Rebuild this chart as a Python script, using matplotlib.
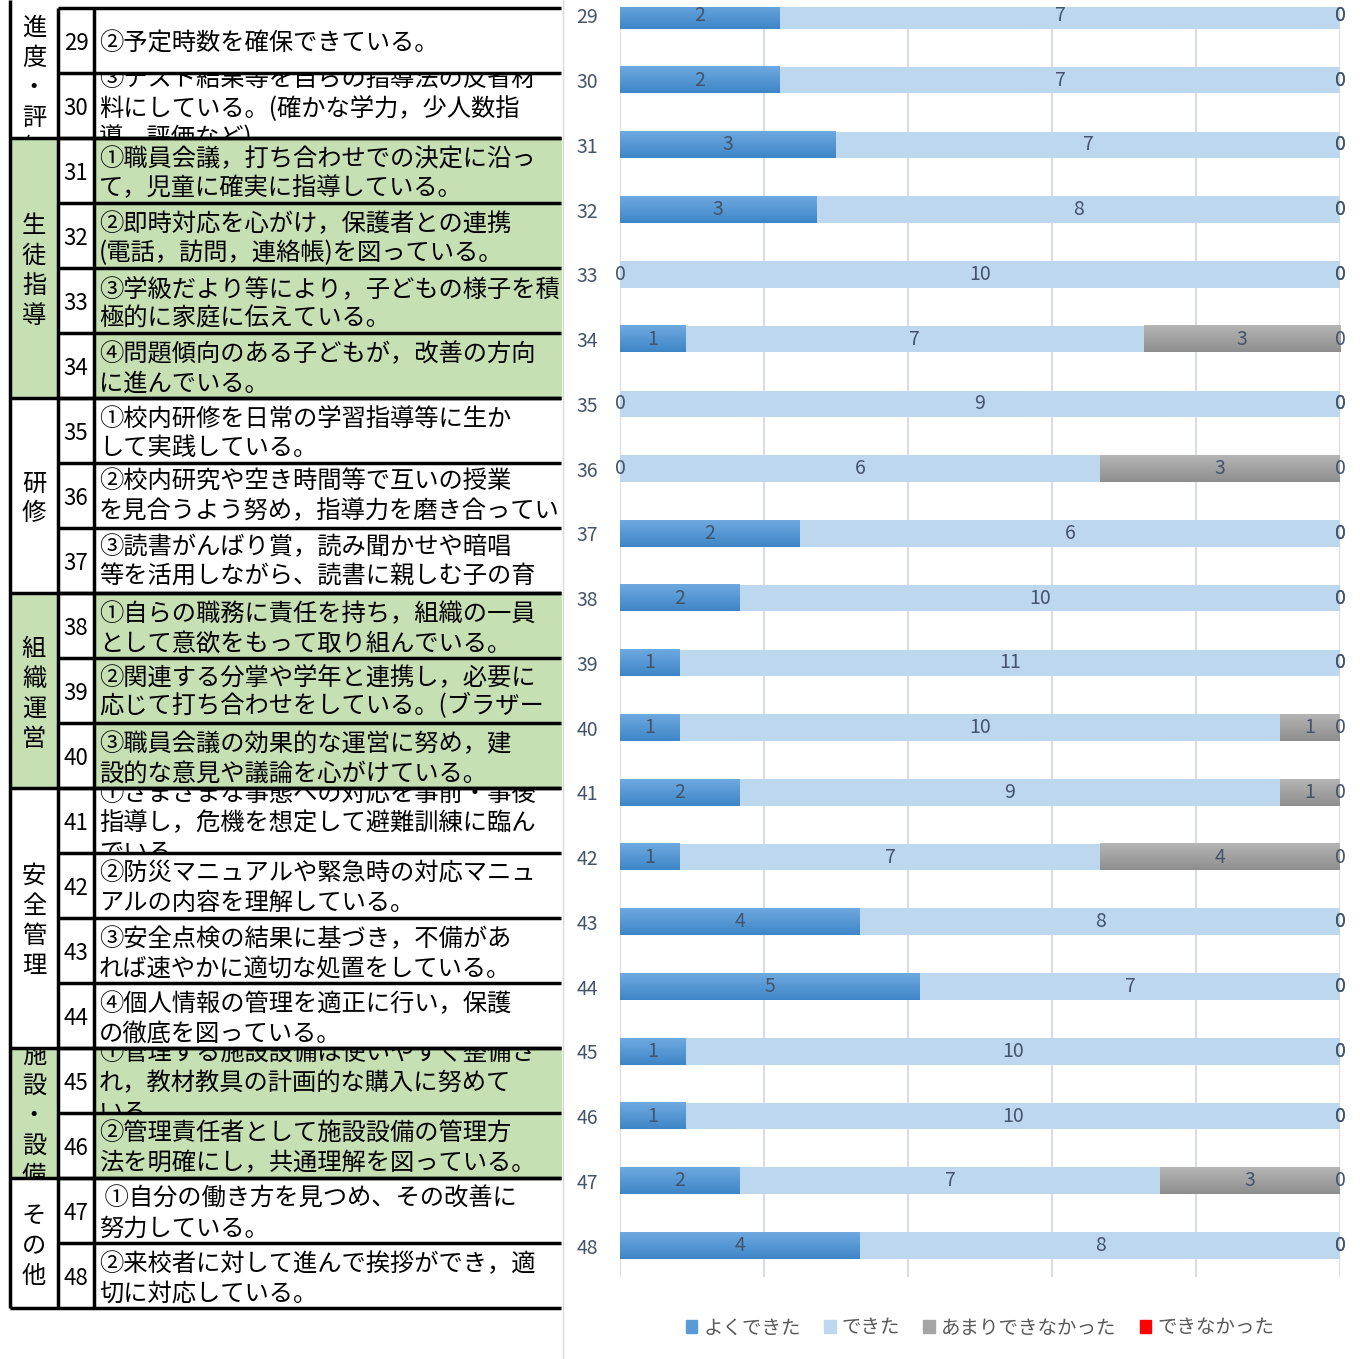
import numpy as np
import matplotlib
matplotlib.use('Agg')
import matplotlib.pyplot as plt
from matplotlib.patches import Rectangle, Patch
from matplotlib.colors import LinearSegmentedColormap
from matplotlib.transforms import Bbox

plt.rcParams['font.family'] = ['Noto Sans CJK JP', 'DejaVu Sans']

# Data
item_no = [29, 30, 31, 32, 33, 34, 35, 36, 37, 38, 39, 40, 41, 42, 43, 44, 45, 46, 47, 48]
yoku_dekita = [2, 2, 3, 3, 0, 1, 0, 0, 2, 2, 1, 1, 2, 1, 4, 5, 1, 1, 2, 4]
dekita = [7, 7, 7, 8, 10, 7, 9, 6, 6, 10, 11, 10, 9, 7, 8, 7, 10, 10, 7, 8]
amari = [0, 0, 0, 0, 0, 3, 0, 3, 0, 0, 0, 1, 1, 4, 0, 0, 0, 0, 3, 0]
dekinakatta = [0, 0, 0, 0, 0, 0, 0, 0, 0, 0, 0, 0, 0, 0, 0, 0, 0, 0, 0, 0]
series_names = ['よくできた', 'できた', 'あまりできなかった', 'できなかった']

item_text = [
    ['②予定時数を確保できている。'],
    ['③テスト結果等を自らの指導法の反省材', '料にしている。(確かな学力，少人数指', '導，評価など)'],
    ['①職員会議，打ち合わせでの決定に沿っ', 'て，児童に確実に指導している。'],
    ['②即時対応を心がけ，保護者との連携', '(電話，訪問，連絡帳)を図っている。'],
    ['③学級だより等により，子どもの様子を積', '極的に家庭に伝えている。'],
    ['④問題傾向のある子どもが，改善の方向', 'に進んでいる。'],
    ['①校内研修を日常の学習指導等に生か', 'して実践している。'],
    ['②校内研究や空き時間等で互いの授業', 'を見合うよう努め，指導力を磨き合ってい', 'る。'],
    ['③読書がんばり賞，読み聞かせや暗唱', '等を活用しながら、読書に親しむ子の育', '成を図っている。'],
    ['①自らの職務に責任を持ち，組織の一員', 'として意欲をもって取り組んでいる。'],
    ['②関連する分掌や学年と連携し，必要に', '応じて打ち合わせをしている。(ブラザー', 'シスター制など)'],
    ['③職員会議の効果的な運営に努め，建', '設的な意見や議論を心がけている。'],
    ['①さまざまな事態への対応を事前・事後', '指導し，危機を想定して避難訓練に臨ん', 'でいる。'],
    ['②防災マニュアルや緊急時の対応マニュ', 'アルの内容を理解している。'],
    ['③安全点検の結果に基づき，不備があ', 'れば速やかに適切な処置をしている。'],
    ['④個人情報の管理を適正に行い，保護', 'の徹底を図っている。'],
    ['①管理する施設設備は使いやすく整備さ', 'れ，教材教具の計画的な購入に努めて', 'いる。'],
    ['②管理責任者として施設設備の管理方', '法を明確にし，共通理解を図っている。'],
    [' ①自分の働き方を見つめ、その改善に', '努力している。'],
    ['②来校者に対して進んで挨拶ができ，適', '切に対応している。'],
]
text_top_aligned = [36, 37, 39]

# group label, first row, last row, shaded
groups = [
    ('進度・評価', 29, 30, False),
    ('生徒指導', 31, 34, True),
    ('研修', 35, 37, False),
    ('組織運営', 38, 40, True),
    ('安全管理', 41, 44, False),
    ('施設・設備', 45, 46, True),
    ('その他', 47, 48, False),
]

green = '#C6E0B4'
colors = ['#5B9BD5', '#BDD7EE', '#A5A5A5', '#FF0000']
gradients = {0: ('#6EA9E0', '#3E86C7'), 2: ('#B5B5B5', '#8E8E8E')}
label_color = '#44546A'

W, H = 1360, 1359
fig = plt.figure(figsize=(W / 100, H / 100), dpi=100)

# ---------- table (left) ----------
ax_t = fig.add_axes([0, 0, 1, 1])
ax_t.set_xlim(0, W)
ax_t.set_ylim(H, 0)
ax_t.axis('off')

x0, x1, x2, x3 = 10, 58, 94, 561
row_h = 65
top0 = 8
dy = 3  # baseline nudge for CJK font


def row_top(no):
    return top0 + row_h * (no - item_no[0])


def clip_text(t, bx0, by0, bx1, by1):
    # axes spans the whole figure: pixel coords, y flipped
    t.set_clip_box(Bbox.from_extents(bx0, H - by1, bx1, H - by0))
    t.set_clip_on(True)


tfs = 17.5
for name, r0, r1, shaded in groups:
    gy0 = row_top(r0)
    gy1 = row_top(r1) + row_h
    if name == '進度・評価':
        gy0 = 0
    if shaded:
        ax_t.add_patch(Rectangle((x0, gy0), x1 - x0, gy1 - gy0, color=green, zorder=0))
        ax_t.add_patch(Rectangle((x2, gy0), x3 - x2, gy1 - gy0, color=green, zorder=0))
    n = len(name)
    if name == '進度・評価':
        ys = [row_top(r0) + 17 + 30 * k for k in range(n)]
    else:
        yc = (gy0 + gy1) / 2
        ys = [yc + 30 * (k - (n - 1) / 2) for k in range(n)]
    for ch, yy in zip(name, ys):
        t = ax_t.text((x0 + x1) / 2, yy + dy, ch, ha='center', va='center', fontsize=tfs, color='black')
        clip_text(t, x0 + 2, gy0, x1 - 2, gy1)
    ax_t.plot([x0, x3], [gy1, gy1], color='black', lw=2.5, solid_capstyle='butt')

for i, no in enumerate(item_no):
    ry0 = row_top(no)
    ry1 = ry0 + row_h
    ax_t.plot([x1, x3], [ry0, ry0], color='black', lw=2.5, solid_capstyle='butt')
    ax_t.text((x1 + x2) / 2, ry0 + row_h / 2 + dy, str(no), ha='center', va='center', fontsize=16)
    lines = item_text[i]
    n = len(lines)
    for k, line in enumerate(lines):
        if no in text_top_aligned:
            yy = ry0 + 16 + 29.5 * k
        else:
            yy = ry0 + row_h / 2 + 29.5 * (k - (n - 1) / 2)
        t = ax_t.text(x2 + 5, yy + dy, line, ha='left', va='center', fontsize=tfs, color='black')
        clip_text(t, x2 + 2, ry0 + 1, x3 - 1, ry1 - 1)

tab_bottom = row_top(item_no[-1]) + row_h
for xx in [x0, x1, x2]:
    ax_t.plot([xx, xx], [0 if xx == x0 else top0, tab_bottom], color='black', lw=2.5, solid_capstyle='butt')

# chart area border
ax_t.plot([563, 563], [0, H], color='#D9D9D9', lw=1)

# ---------- stacked bar chart (right) ----------
ax_top, ax_bot = 7, 1277
ax_c = fig.add_axes([620 / W, 1 - ax_bot / H, 720 / W, (ax_bot - ax_top) / H])
ax_c.patch.set_visible(False)

data = np.array([yoku_dekita, dekita, amari, dekinakatta], dtype=float).T
share = data / data.sum(axis=1, keepdims=True) * 100
ypos = np.arange(len(item_no))
left = np.zeros(len(item_no))
ramp = np.linspace(0, 1, 64).reshape(-1, 1)
for j in range(4):
    bars = ax_c.barh(ypos, share[:, j], left=left, height=0.41, color=colors[j], zorder=2)
    if j in gradients:
        cmap = LinearSegmentedColormap.from_list('g%d' % j, gradients[j])
        for b in bars:
            if b.get_width() <= 0:
                continue
            bx, by = b.get_x(), b.get_y()
            im = ax_c.imshow(ramp, cmap=cmap, aspect='auto', zorder=2.1,
                             extent=[bx, bx + b.get_width(), by + b.get_height(), by])
    for i in range(len(item_no)):
        xc = left[i] + share[i, j] / 2
        ax_c.text(xc, ypos[i], '%d' % data[i, j], ha='center', va='center',
                  fontsize=14, color=label_color, zorder=3)
    left += share[:, j]

ax_c.set_ylim(19 + 31.5 / 64.75, -(15.3 - 7) / 64.75)
ax_c.set_xlim(0, 100)
ax_c.set_aspect('auto')
ax_c.set_xticks(np.arange(0, 101, 20))
ax_c.set_xticklabels([])
ax_c.tick_params(axis='x', length=0)
ax_c.grid(axis='x', color='#D9DEE6', lw=1.5, zorder=0)
ax_c.set_axisbelow(True)
ax_c.set_yticks(ypos)
ax_c.set_yticklabels([str(v) for v in item_no], fontsize=14, color=label_color)
ax_c.tick_params(axis='y', length=0, pad=16)
for s in ax_c.spines.values():
    s.set_visible(False)

handles = [Patch(color=c) for c in colors]
fig.legend(handles, series_names, loc='center', bbox_to_anchor=(980 / W, 1 - 1328 / H),
           ncol=4, frameon=False, fontsize=14, handlelength=0.6, handleheight=0.6,
           handletextpad=0.3, columnspacing=1.2, labelcolor='#595959')

fig.savefig('out.png', dpi=100)
